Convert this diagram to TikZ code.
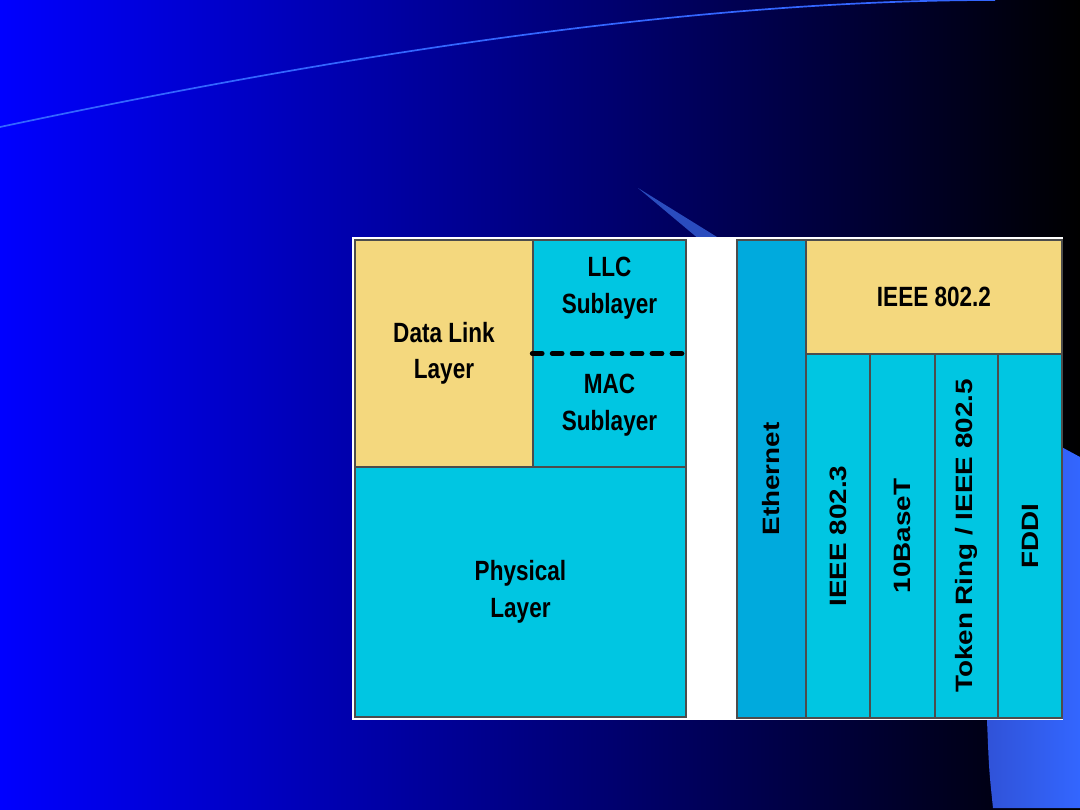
\documentclass[tikz,border=0pt]{standalone}
\usepackage{fontspec}
\newfontfamily\boxfont{Liberation Sans}[FakeStretch=0.81]
\newfontfamily\colfont{Liberation Sans}
\usetikzlibrary{positioning}

\definecolor{linkTan}{RGB}{244,216,126}
\definecolor{phyCyan}{RGB}{0,198,226}
\definecolor{etherBlue}{RGB}{0,170,221}
\definecolor{accentBlue}{RGB}{51,102,255}
\definecolor{accentDark}{RGB}{48,82,215}
\definecolor{wedgeBlue}{RGB}{42,76,190}

\newcommand{\colLabel}[1]{\rotatebox{90}{\scalebox{1}[0.85]{#1}}}

\begin{document}
\begin{tikzpicture}[
    x=0.025cm, y=-0.025cm,
    layerBox/.style={
        rectangle,
        draw=black!70,
        line width=1pt,
        inner sep=0pt
    },
    tanBox/.style={
        layerBox,
        fill=linkTan
    },
    cyanBox/.style={
        layerBox,
        fill=phyCyan
    },
    boxText/.style={
        align=center,
        font=\boxfont\bfseries\fontsize{19.8pt}{26pt}\selectfont
    },
    colText/.style={
        font=\colfont\bfseries\fontsize{19.8pt}{24pt}\selectfont
    },
    subDash/.style={
        line width=3.5pt,
        line cap=round,
        dash pattern=on 7pt off 7.2pt
    }
]

% ==================== SLIDE BACKGROUND ====================
\useasboundingbox (0,0) rectangle (1080,810);
\shade[left color=blue, right color=black] (0,0) rectangle (1080,810);
\draw[accentBlue, line width=1.2pt] (0,127) .. controls (400,42) and (732,0) .. (995,0);
\fill[wedgeBlue] (638,188) -- (738,250) -- (712,250) -- cycle;
\shade[left color=accentDark, right color=accentBlue]
    (1030,430) -- (1080,457) -- (1080,808) -- (993,808)
    .. controls (989,770) .. (987,720) -- (985,600) -- cycle;

% White panel
\fill[white] (352,237) rectangle (1063,720);

% ==================== OSI LAYERS (LEFT) ====================
\node[tanBox, minimum width=4.45cm, minimum height=5.675cm, boxText] (dataLink) at (444,353.5) {Data Link\\Layer};
\node[cyanBox, minimum width=3.825cm, minimum height=5.675cm] (subLayers) at (609.5,353.5) {};
\node[boxText] (llcText) at (609.5,288) {LLC\\Sublayer};
\node[boxText] (macText) at (609.5,405) {MAC\\Sublayer};
\draw[subDash] (subLayers.west) -- (subLayers.east);
\node[cyanBox, minimum width=8.275cm, minimum height=6.25cm, boxText] (physical) at (520.5,592) {Physical\\Layer};

% ==================== IEEE STANDARDS (RIGHT) ====================
\node[layerBox, fill=etherBlue, minimum width=1.725cm, minimum height=11.95cm, colText] (ethernet) at (771.5,479) {\colLabel{Ethernet}};
\node[tanBox, minimum width=6.4cm, minimum height=2.85cm, boxText] (ieee8022) at (934,297) {IEEE 802.2};
\node[cyanBox, minimum width=1.6cm, minimum height=9.1cm, colText] (ieee8023) at (838,536) {\colLabel{IEEE 802.3}};
\node[cyanBox, minimum width=1.625cm, minimum height=9.1cm, colText] (tenBaseT) at (902.5,536) {\colLabel{10BaseT}};
\node[cyanBox, minimum width=1.575cm, minimum height=9.1cm, colText] (tokenRing) at (966.5,536) {\colLabel{Token Ring / IEEE 802.5}};
\node[cyanBox, minimum width=1.6cm, minimum height=9.1cm, colText] (fddi) at (1030,536) {\colLabel{FDDI}};

\end{tikzpicture}
\end{document}
